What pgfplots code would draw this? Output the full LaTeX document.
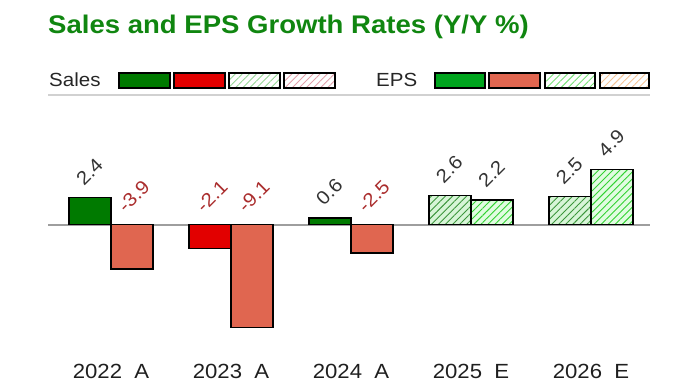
\documentclass[border=0pt]{standalone}
\usepackage{fontspec}
\setmainfont{Liberation Sans}[FakeStretch=1.08]
\usepackage{pgfplots}
\pgfplotsset{compat=1.18}
\usetikzlibrary{patterns.meta}

\definecolor{titlegreen}{RGB}{16,134,16}
\definecolor{salesgreen}{RGB}{0,122,0}
\definecolor{salesred}{RGB}{226,0,0}
\definecolor{epsgreen}{RGB}{0,165,30}
\definecolor{epssalmon}{RGB}{224,102,80}
\definecolor{hatchdark}{RGB}{60,150,60}
\definecolor{hatchfill}{RGB}{215,245,215}
\definecolor{hatchbright}{RGB}{50,210,50}
\definecolor{hatchfilltwo}{RGB}{225,252,225}
\definecolor{labgray}{RGB}{51,51,51}
\definecolor{labred}{RGB}{170,45,45}
\definecolor{legsalesest}{RGB}{150,215,150}
\definecolor{legsalesneg}{RGB}{225,160,170}
\definecolor{legepsest}{RGB}{120,225,120}
\definecolor{legepsneg}{RGB}{245,195,150}

\begin{document}
\begin{tikzpicture}[x=1pt,y=1pt]
\path[use as bounding box] (0,0) rectangle (700,387);
% title
\node[anchor=base west, inner sep=0pt, text=titlegreen, font=\bfseries\fontsize{25.5}{30}\selectfont] at (48,353) {Sales and EPS Growth Rates (Y/Y \%)};
% legend
\node[anchor=base west, inner sep=0pt, text=black!85, font=\fontsize{19}{22}\selectfont] at (49,300) {Sales};
\draw[line width=1.3pt, fill=salesgreen] (119,299) rectangle (170,314);
\draw[line width=1.3pt, fill=salesred] (174,299) rectangle (225,314);
\draw[line width=1.3pt, preaction={fill=white}, pattern={Lines[angle=45,distance=5pt,line width=0.9pt]}, pattern color=legsalesest] (229,299) rectangle (280,314);
\draw[line width=1.3pt, preaction={fill=white}, pattern={Lines[angle=45,distance=5pt,line width=0.9pt]}, pattern color=legsalesneg] (284,299) rectangle (335,314);
\node[anchor=base west, inner sep=0pt, text=black!85, font=\fontsize{19}{22}\selectfont] at (376,300) {EPS};
\draw[line width=1.3pt, fill=epsgreen] (435,299) rectangle (485,314);
\draw[line width=1.3pt, fill=epssalmon] (489,299) rectangle (540,314);
\draw[line width=1.3pt, preaction={fill=white}, pattern={Lines[angle=45,distance=5pt,line width=0.9pt]}, pattern color=legepsest] (545,299) rectangle (595,314);
\draw[line width=1.3pt, preaction={fill=white}, pattern={Lines[angle=45,distance=5pt,line width=0.9pt]}, pattern color=legepsneg] (600,299) rectangle (649,314);
\draw[black!18, line width=1.3pt] (48,292) -- (650,292);

\begin{axis}[
  at={(40,32)}, anchor=south west,
  x=120pt, y=11.3pt,
  xmin=-0.525, xmax=4.49, ymin=-11.15, ymax=10.1,
  axis line style={draw=none},
  ytick=\empty,
  xtick={0,1,2,3,4},
  xticklabels={2022\ \ A,2023\ \ A,2024\ \ A,2025\ \ E,2026\ \ E},
  xtick style={draw=none},
  major tick length=0pt,
  xticklabel style={anchor=north, inner sep=0pt, yshift=-13pt, text=black!88, font=\fontsize{20.5}{24}\selectfont},
  extra y ticks={0},
  extra y tick labels={},
  extra y tick style={grid=major, major grid style={draw=black!38, line width=1.4pt}, tick style={draw=none}},
  clip=false,
]
% Sales bars
\addplot[ybar, bar width=42pt, bar shift=-21pt, draw=black, line width=1.3pt, fill=salesgreen]
  coordinates {(0,2.4) (2,0.6)};
\addplot[ybar, bar width=42pt, bar shift=-21pt, draw=black, line width=1.3pt, fill=salesred]
  coordinates {(1,-2.1)};
\addplot[ybar, bar width=42pt, bar shift=-21pt, draw=black, line width=1.3pt,
  preaction={fill=hatchfill}, pattern={Lines[angle=45,distance=5pt,line width=0.9pt]}, pattern color=hatchdark]
  coordinates {(3,2.6) (4,2.5)};
% EPS bars
\addplot[ybar, bar width=42pt, bar shift=21pt, draw=black, line width=1.3pt, fill=epssalmon]
  coordinates {(0,-3.9) (1,-9.1) (2,-2.5)};
\addplot[ybar, bar width=42pt, bar shift=21pt, draw=black, line width=1.3pt,
  preaction={fill=hatchfilltwo}, pattern={Lines[angle=45,distance=5pt,line width=0.9pt]}, pattern color=hatchbright]
  coordinates {(3,2.2) (4,4.9)};
% value labels
\addplot[draw=none, nodes near coords, point meta=explicit symbolic,
  every node near coord/.append style={xshift=-27pt, yshift=11pt, rotate=45, anchor=south west, inner sep=0pt, text=labgray, font=\fontsize{19}{22}\selectfont}]
  coordinates {(0,2.4)[2.4] (2,0.6)[0.6] (3,2.6)[2.6] (4,2.5)[2.5]};
\addplot[draw=none, nodes near coords, point meta=explicit symbolic,
  every node near coord/.append style={xshift=-27pt, yshift=11pt, rotate=45, anchor=south west, inner sep=0pt, text=labred, font=\fontsize{19}{22}\selectfont}]
  coordinates {(1,0)[-2.1]};
\addplot[draw=none, nodes near coords, point meta=explicit symbolic,
  every node near coord/.append style={xshift=15pt, yshift=11pt, rotate=45, anchor=south west, inner sep=0pt, text=labgray, font=\fontsize{19}{22}\selectfont}]
  coordinates {(3,2.2)[2.2] (4,4.9)[4.9]};
\addplot[draw=none, nodes near coords, point meta=explicit symbolic,
  every node near coord/.append style={xshift=15pt, yshift=11pt, rotate=45, anchor=south west, inner sep=0pt, text=labred, font=\fontsize{19}{22}\selectfont}]
  coordinates {(0,0)[-3.9] (1,0)[-9.1] (2,0)[-2.5]};
\end{axis}
\end{tikzpicture}
\end{document}
